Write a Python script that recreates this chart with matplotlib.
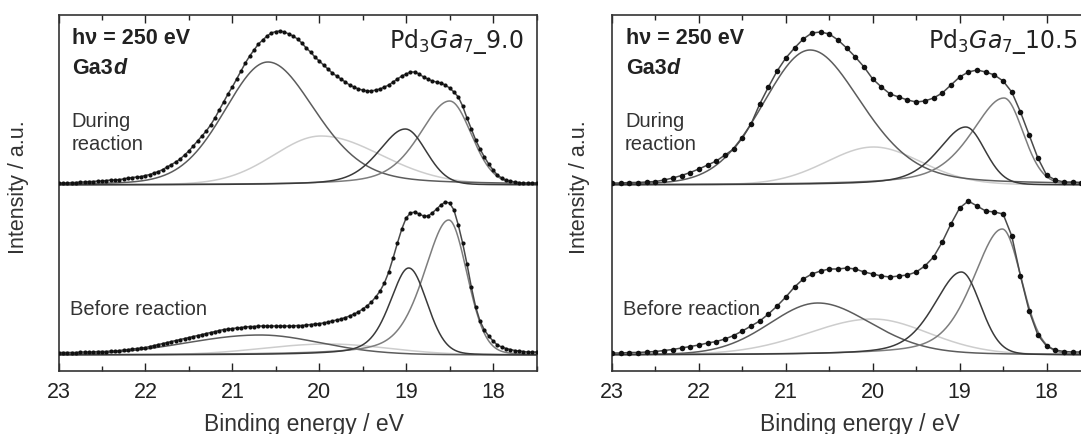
import numpy as np
import matplotlib
matplotlib.use('Agg')
import matplotlib.pyplot as plt
from matplotlib.ticker import MultipleLocator

plt.rcParams['font.family'] = ['Liberation Sans', 'DejaVu Sans']
plt.rcParams['mathtext.fontset'] = 'custom'
plt.rcParams['mathtext.rm'] = 'DejaVu Sans'
plt.rcParams['mathtext.it'] = 'DejaVu Sans:italic'

# ---------------- data (intensity in a.u.) ----------------
# measured points, left sample (Pd3Ga7_9.0), 0.05 eV steps from 23.00 to 17.50 eV
E_left = np.linspace(23.0, 17.5, 111)
during_9 = [2, 2, 2, 2.5, 2.5, 3, 3, 3.5, 3.5, 4, 4, 4.5, 5, 5, 5.5, 6, 7, 7.5, 8, 8.5, 9.5,
            10.5, 12, 13.5, 15.5, 18, 20.5, 23, 26, 30, 34, 39, 44, 49, 54, 60, 67, 75, 83, 91, 98,
            106, 114, 122, 129, 135, 141, 145, 149, 152, 153.5, 154, 153, 151, 149, 146, 142, 137, 133, 128, 124,
            120, 116, 112, 109, 106, 103, 100, 98, 96, 95, 94, 94, 95, 96, 98, 100, 103, 106, 109, 111,
            113, 113, 111, 108, 106, 104, 103, 102, 100, 97, 93, 88, 79, 67, 56, 45, 36, 28, 21, 15,
            10, 7, 5, 4, 3, 2.5, 2, 2, 2, 2]
before_9 = [2.5, 2.5, 2.5, 2.5, 2.5, 3, 3, 3, 3, 3.5, 3.5, 3.5, 4, 4, 4.5, 5, 5.5, 6, 6.5, 7, 7.5,
            8.5, 9.5, 10.5, 11.5, 12.5, 13.5, 14.5, 15.5, 16.5, 17.5, 18.5, 19.5, 20.5, 21.5, 22.5, 23.5, 24.5, 25.5, 26, 26.5,
            27, 27.5, 28, 28.5, 28.5, 29, 29, 29, 29, 29, 29, 29, 29, 29, 29.5, 29.5, 30, 30.5, 31, 31.5,
            32, 33, 34, 35, 36, 37.5, 39, 41, 43, 46, 49, 53, 58, 64, 72, 83, 97, 112, 126, 137,
            142, 143, 141, 139, 139, 142, 146, 150, 153, 152, 145, 130, 112, 91, 68, 48, 34, 25, 19, 14,
            10, 8, 6.5, 5.5, 4.5, 4, 3.5, 3, 3, 3]

# measured points, right sample (Pd3Ga7_10.5), 0.1 eV steps from 23.0 to 17.4 eV
E_right = np.linspace(23.0, 17.4, 57)
during_105 = [2, 2, 2.5, 2.5, 3, 3.5, 5, 7, 9.5, 12.5,
              16, 20, 24, 30, 36, 47, 61, 81, 98, 114,
              127, 137, 146, 152, 153, 151, 145, 137, 128, 118,
              106, 98, 91, 88, 85, 83, 84, 87, 92, 100,
              108, 113, 115, 113, 110, 104, 93, 73, 50, 27,
              10, 5, 3, 3, 2.5, 2.5, 2.5]
before_105 = [2, 2, 2.5, 2.5, 3, 3.5, 4.5, 5.5, 7, 8.5,
              10, 12, 13.5, 16, 19.5, 24, 29, 34, 41, 49,
              58, 68, 76, 81, 84, 86, 86, 87, 86, 83,
              81, 79, 78, 79, 80, 83, 89, 98, 113, 131,
              147, 154, 149, 144, 143, 141, 119, 79, 44, 20,
              9, 5, 3.5, 3, 3, 3, 3]

# fitted components: centre (eV), height, width toward higher BE, width toward lower BE,
# Lorentz fraction on the higher-BE side, Lorentz fraction on the lower-BE side
comp_names = ['A', 'B', 'C', 'D']
fit_during_9 = [(20.59, 123, 0.50, 0.55, 0.15, 0.30), (19.98, 49, 0.55, 0.70, 0.10, 0.10),
                (19.01, 56, 0.31, 0.24, 0.40, 0.10), (18.50, 84, 0.35, 0.25, 0.45, 0.10)]
fit_before_9 = [(20.68, 20, 0.85, 0.70, 0.00, 0.10), (19.90, 11, 0.75, 0.70, 0.00, 0.00),
                (18.97, 87, 0.22, 0.21, 0.45, 0.10), (18.51, 135, 0.29, 0.21, 0.45, 0.10)]
fit_during_105 = [(20.72, 135, 0.54, 0.60, 0.10, 0.30), (19.99, 38, 0.55, 0.55, 0.10, 0.10),
                  (18.93, 58, 0.32, 0.22, 0.50, 0.10), (18.49, 87, 0.38, 0.22, 0.55, 0.10)]
fit_before_105 = [(20.63, 52, 0.56, 0.62, 0.10, 0.20), (20.00, 36, 0.75, 0.65, 0.10, 0.10),
                  (18.98, 83, 0.32, 0.22, 0.45, 0.10), (18.51, 126, 0.34, 0.22, 0.45, 0.10)]

sample_labels = ['9.0', '10.5']
xticks = [23, 22, 21, 20, 19, 18]

# ---------------- styling ----------------
comp_colors = {'A': '#5c5c5c', 'B': '#cdcdcd', 'C': '#3a3a3a', 'D': '#7d7d7d'}
draw_order = ['B', 'A', 'D', 'C']
W, H = 1081, 435
fig = plt.figure(figsize=(W / 100, H / 100), dpi=100)


def peak(E, c, h, s_hi, s_lo, eta_hi, eta_lo):
    d = E - c
    hi = d > 0
    s = np.where(hi, s_hi, s_lo)
    eta = np.where(hi, eta_hi, eta_lo)
    g = np.exp(-d ** 2 / (2 * s ** 2))
    gam = s * np.sqrt(2 * np.log(2))
    lor = 1.0 / (1.0 + (d / gam) ** 2)
    return h * ((1 - eta) * g + eta * lor)


def draw_panel(x0, E_pts, during, before, fit_d, fit_b, label, ms):
    ax = fig.add_axes([x0 / W, (H - 372) / H, 478 / W, 356 / H])
    ax.set_xlim(23, 17.5)
    ax.set_ylim(0, 356)
    Ef = np.linspace(23.2, 17.2, 1200)
    for off, pts, fit in ((186, during, fit_d), (16, before, fit_b)):
        for n, p in zip(comp_names, fit):
            pass
        comps = {n: peak(Ef, *p) for n, p in zip(comp_names, fit)}
        for n in draw_order:
            ax.plot(Ef, comps[n] + off, color=comp_colors[n], lw=1.1, zorder=2)
        y = np.asarray(pts) + off
        ax.plot(E_pts, y, '-', color='#4a4a4a', lw=1.1, zorder=3)
        ax.plot(E_pts, y, 'o', ms=ms, color='#111111', mew=0, zorder=4)
    ax.set_xticks(xticks)
    ax.xaxis.set_minor_locator(MultipleLocator(0.5))
    ax.set_yticks([])
    ax.tick_params(axis='x', which='both', direction='in', top=True, labelsize=15.5, pad=7,
                   colors='#222222')
    ax.tick_params(axis='x', which='major', length=6, width=1)
    ax.tick_params(axis='x', which='minor', length=3.5, width=1)
    for sp in ax.spines.values():
        sp.set_linewidth(1.2)
        sp.set_color('#333333')

    def fx(xp):
        return (xp - x0) / 478

    def fy(yp):
        return (372 - yp) / 356

    ax.text(fx(x0 + 14), fy(39), 'h\u03bd = 250 eV', transform=ax.transAxes,
            fontsize=15.5, fontweight='bold', va='center', ha='left', color='#222222')
    t2 = ax.text(fx(x0 + 14), fy(68), 'Ga3', transform=ax.transAxes,
                 fontsize=15.5, fontweight='bold', va='center', ha='left', color='#222222')
    ax.annotate('d', xy=(1, 0), xycoords=t2, va='bottom', ha='left', fontsize=15.5,
                fontweight='bold', fontstyle='italic', color='#222222')
    ax.text(fx(x0 + 13), fy(122), 'During', transform=ax.transAxes, fontsize=14.5,
            va='center', ha='left', color='#333333')
    ax.text(fx(x0 + 13), fy(145), 'reaction', transform=ax.transAxes, fontsize=14.5,
            va='center', ha='left', color='#333333')
    ax.text(fx(x0 + 11), fy(310), 'Before reaction', transform=ax.transAxes, fontsize=14.5,
            va='center', ha='left', color='#333333')
    ax.text(fx(x0 + 465), fy(42), r'Pd$_3$$\mathit{Ga}$$_7$_' + label, transform=ax.transAxes,
            fontsize=17, va='center', ha='right', color='#222222', family='DejaVu Sans')
    return ax


axL = draw_panel(58.5, E_left, during_9, before_9, fit_during_9, fit_before_9, sample_labels[0], 3.0)
axR = draw_panel(612, E_right, during_105, before_105, fit_during_105, fit_before_105, sample_labels[1], 4.0)

for xc in (19, 580):
    fig.text(xc / W, (H - 187) / H, 'Intensity / a.u.', rotation=90, fontsize=15.5,
             ha='center', va='center', color='#333333')
for xc in (304, 860):
    fig.text(xc / W, (H - 425) / H, 'Binding energy / eV', fontsize=16.5,
             ha='center', va='center', color='#333333')

fig.savefig('out.png', dpi=100)
